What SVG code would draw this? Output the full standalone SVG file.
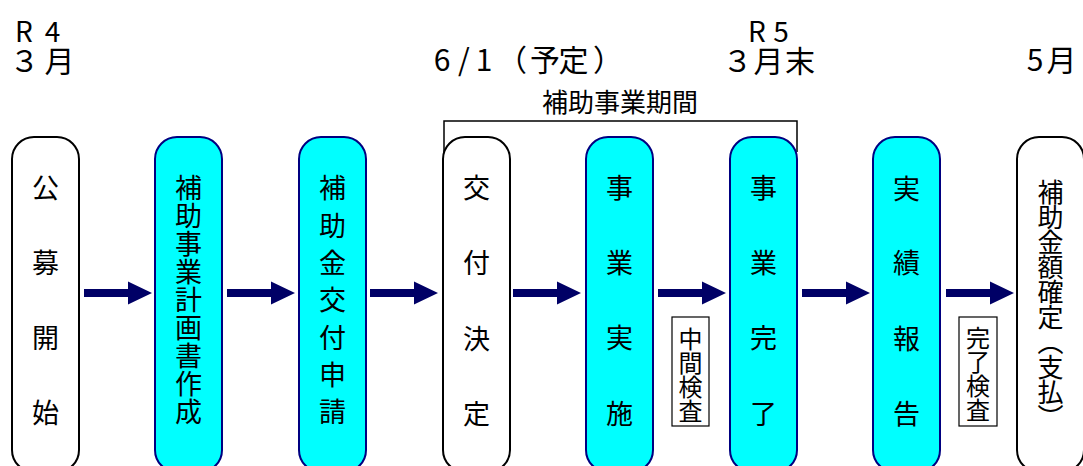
<svg xmlns="http://www.w3.org/2000/svg" width="1083" height="466" viewBox="0 0 1083 466">
<style>
.t{font-family:"Noto Sans CJK JP","Liberation Sans",sans-serif;fill:#000}
.lat{font-family:"Noto Sans CJK JP","Liberation Sans",sans-serif;fill:#000;text-anchor:middle;font-size:28px}
.m{text-anchor:middle}
.v{writing-mode:vertical-rl;text-anchor:start;font-size:27px}
.wbox{fill:#fff;stroke:#000;stroke-width:2}
.cbox{fill:#00ffff;stroke:#000080;stroke-width:2}
.lbl{fill:#fff;stroke:#000;stroke-width:1.2}
</style>
<defs>
<path id="arr" d="M0,-4 H44 V-11.5 L68,0 L44,11.5 V4 H0 Z" fill="#000066"/>
</defs>
<rect width="1083" height="466" fill="#fff"/>

<g id="timeline">
<text class="lat" x="24" y="42">R<tspan x="52.5">4</tspan></text>
<text class="t m" x="24.5 59.5" y="72" font-size="30">３月</text>
<text class="lat" x="757" y="42">R<tspan x="781">5</tspan></text>
<text class="t m" x="737.5 768.5 800" y="72" font-size="30">３月末</text>
<text class="t m" font-size="30" y="71" x="442 464 484 512 545 573.5 608">6/1（予定）</text>
<text class="t m" x="1035 1061.5" y="71" font-size="30">5月</text>
</g>

<g id="period">
<path d="M444,152 V121 H797 V152" fill="none" stroke="#000" stroke-width="1.5"/>
<text class="t" x="620" y="100" font-size="26" text-anchor="middle" dominant-baseline="central">補助事業期間</text>
</g>

<g id="n1">
<rect class="wbox" x="12" y="137" width="67" height="335" rx="22"/>
<text class="t v" x="45.5" y="174.5 249.5 324.5 399.5">公募開始</text>
</g>

<g id="n2">
<rect class="cbox" x="155" y="137" width="67" height="335" rx="22"/>
<text class="t v" x="188.5" y="174.5 202.5 230.5 258.5 286.5 314.5 342.5 370.5 398.5">補助事業計画書作成</text>
</g>

<g id="n3">
<rect class="cbox" x="299" y="137" width="67" height="335" rx="22"/>
<text class="t v" x="332.5" y="174.5 211.8 249.2 286.5 323.8 361.2 398.5">補助金交付申請</text>
</g>

<g id="n4">
<rect class="wbox" x="443" y="137" width="67" height="335" rx="22"/>
<text class="t v" x="476.5" y="174.5 249.5 325.5 400.5">交付決定</text>
</g>

<g id="n5">
<rect class="cbox" x="586" y="137" width="67" height="335" rx="22"/>
<text class="t v" x="619.5" y="174.5 249.5 324.5 400.5">事業実施</text>
</g>

<g id="n6">
<rect class="cbox" x="730" y="137" width="67" height="335" rx="22"/>
<text class="t v" x="763.5" y="174.5 249.5 324.5 400.5">事業完了</text>
</g>

<g id="n7">
<rect class="cbox" x="873" y="137" width="67" height="335" rx="22"/>
<text class="t v" x="906.5" y="175.5 249.5 325.5 400.5">実績報告</text>
</g>

<g id="n8">
<rect class="wbox" x="1017" y="137" width="67" height="335" rx="22"/>
<text class="t v" x="1050.5" y="179" style="font-size:26px" letter-spacing="-1">補助金額確定（支払）</text>
</g>

<g id="connectors">
<use href="#arr" x="84" y="293"/>
<use href="#arr" x="227" y="293"/>
<use href="#arr" x="370" y="293"/>
<use href="#arr" x="513" y="293"/>
<use href="#arr" x="658" y="293"/>
<use href="#arr" x="802" y="293"/>
<use href="#arr" x="946" y="293"/>
</g>

<g id="label-chukan">
<rect class="lbl" x="672" y="317" width="37" height="109"/>
<text class="t v" x="690.5" y="327" style="font-size:24px">中間検査</text>
</g>

<g id="label-kanryo">
<rect class="lbl" x="959" y="317" width="38" height="109"/>
<text class="t v" x="978" y="326" style="font-size:24px">完了検査</text>
</g>
</svg>
